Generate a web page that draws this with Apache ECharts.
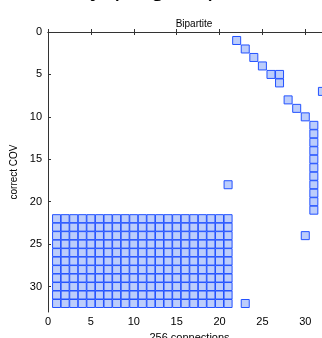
<!DOCTYPE html>
<html>
<head>
<meta charset="utf-8">
<script src="https://cdn.jsdelivr.net/npm/echarts@6/dist/echarts.min.js"></script>
<style>html,body{margin:0;padding:0;background:#fff;}#c{width:322px;height:338px;}</style>
</head>
<body>
<div id="c"></div>
<script>
// Dense block: every combination of these columns and rows
const blockCols = [1,2,3,4,5,6,7,8,9,10,11,12,13,14,15,16,17,18,19,20,21];
const blockRows = [22,23,24,25,26,27,28,29,30,31,32];
// Remaining individual connections
const otherX = [22,23,24,25,26,27,27,28,29,30,32,31,31,31,31,31,31,31,31,31,31,31,21,30,23];
const otherY = [1,2,3,4,5,5,6,8,9,10,7,11,12,13,14,15,16,17,18,19,20,21,18,24,32];
const xTicks = {min:0, max:33, interval:5};
const yTicks = {min:0, max:33, interval:5};
const titleText = 'Bipartite';
const xName = '256 connections';
const yName = 'correct COV';
const headText = 'Accuracy (Angular)';

const pts = [];
blockCols.forEach(c => blockRows.forEach(r => pts.push([c, r])));
otherX.forEach((x, i) => pts.push([x, otherY[i]]));

const font = 'Liberation Sans, Arial, sans-serif';
const axisCommon = {
  type: 'value', min: xTicks.min, max: xTicks.max, interval: xTicks.interval,
  axisLine: {show: true, lineStyle: {color: '#333', width: 1}},
  axisTick: {show: true, inside: true, length: 3, lineStyle: {color: '#333'}},
  splitLine: {show: false}
};
const chart = echarts.init(document.getElementById('c'), null, {renderer: 'canvas'});
chart.setOption({
  animation: false,
  backgroundColor: '#fff',
  title: {text: titleText, left: 189, top: 14, textAlign: 'center',
    textStyle: {fontSize: 10, fontWeight: 'normal', color: '#000', fontFamily: font}},
  graphic: [{type: 'text', left: -4, top: -24,
    style: {text: headText, fontSize: 26, fill: '#000', fontFamily: font}}],
  grid: {left: 48, top: 32, right: -9, bottom: 26, containLabel: false, outerBoundsMode: 'none'},
  xAxis: [
    Object.assign({}, axisCommon, {position: 'bottom',
      axisLabel: {fontSize: 11, color: '#000', margin: 4, fontFamily: font, showMaxLabel: false},
      name: xName, nameLocation: 'middle', nameGap: 20,
      nameTextStyle: {fontSize: 11, color: '#000', fontFamily: font}}),
    Object.assign({}, axisCommon, {position: 'top', axisLabel: {show: false}})
  ],
  yAxis: [{
    type: 'value', min: yTicks.min, max: yTicks.max, interval: yTicks.interval, inverse: true,
    axisLine: {show: true, lineStyle: {color: '#333', width: 1}},
    axisTick: {show: true, inside: true, length: 3, lineStyle: {color: '#333'}},
    splitLine: {show: false},
    axisLabel: {fontSize: 11, color: '#000', margin: 6, fontFamily: font, showMaxLabel: false},
    name: yName, nameLocation: 'middle', nameGap: 25, nameRotate: 90,
    nameTextStyle: {fontSize: 10, color: '#000', fontFamily: font}
  }],
  series: [{
    type: 'scatter', xAxisIndex: 0, yAxisIndex: 0, data: pts,
    symbol: 'rect', symbolSize: 8, clip: false,
    itemStyle: {color: '#bccdfb', borderColor: '#2352ff', borderWidth: 1, opacity: 1}
  }]
});
</script>
</body>
</html>
